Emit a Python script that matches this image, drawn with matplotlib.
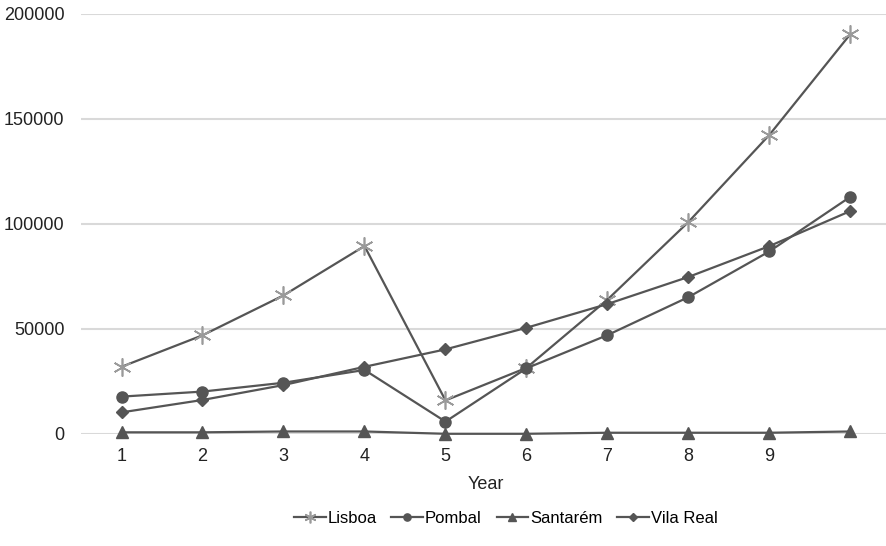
import matplotlib.pyplot as plt
import numpy as np

plt.rcParams['font.family'] = ['Liberation Sans', 'DejaVu Sans']

years = [1, 2, 3, 4, 5, 6, 7, 8, 9, 10]
year_labels = ['1', '2', '3', '4', '5', '6', '7', '8', '9', '']

lisboa = [32000, 47000, 66000, 89500, 16000, 31500, 64000, 101000, 142500, 190500]
pombal = [17800, 20200, 24400, 30500, 5900, 31300, 47100, 65200, 87000, 113000]
santarem = [800, 800, 1200, 1200, 100, 100, 600, 600, 600, 1200]
vila_real = [10300, 16200, 23300, 32000, 40300, 50600, 61900, 74800, 89500, 106200]

line_col = '#555555'

fig = plt.figure(figsize=(8.87, 5.46), dpi=100)
ax = fig.add_axes([81/887, 1 - 434/546, 810/887, 420/546])

ax.plot(years, lisboa, color=line_col, lw=1.6, marker=(6, 2, 0), markersize=13,
        markeredgecolor='#9a9a9a', markeredgewidth=1.2, label='Lisboa', clip_on=False)
ax.plot(years, pombal, color=line_col, lw=1.6, marker='o', markersize=8,
        markerfacecolor=line_col, markeredgecolor=line_col, label='Pombal', clip_on=False)
ax.plot(years, santarem, color=line_col, lw=1.6, marker='^', markersize=8,
        markerfacecolor=line_col, markeredgecolor=line_col, label='Santarém', clip_on=False)
ax.plot(years, vila_real, color=line_col, lw=1.6, marker='D', markersize=6,
        markerfacecolor=line_col, markeredgecolor=line_col, label='Vila Real', clip_on=False)

ax.set_xlim(0.5, 10.5)
ax.set_ylim(0, 200000)
ax.set_yticks([0, 50000, 100000, 150000, 200000])
ax.set_yticklabels(['0', '50000', '100000', '150000', '200000'])
ax.set_xticks(years)
ax.set_xticklabels(year_labels)
ax.tick_params(length=0, labelsize=13, colors='#222222')
ax.tick_params(axis='y', pad=12)
ax.tick_params(axis='x', pad=10)
ax.grid(axis='y', color='#d9d9d9', lw=1.5)
ax.set_axisbelow(True)
for s in ax.spines.values():
    s.set_visible(False)
ax.set_xlabel('Year', fontsize=13, color='#222222', labelpad=8)

fig.legend(loc='center', bbox_to_anchor=(0.57, 0.05), ncol=4, frameon=False,
           fontsize=12, handlelength=1.9, columnspacing=0.9, handletextpad=0.1,
           markerscale=0.65)

fig.savefig('out.png', dpi=100)
